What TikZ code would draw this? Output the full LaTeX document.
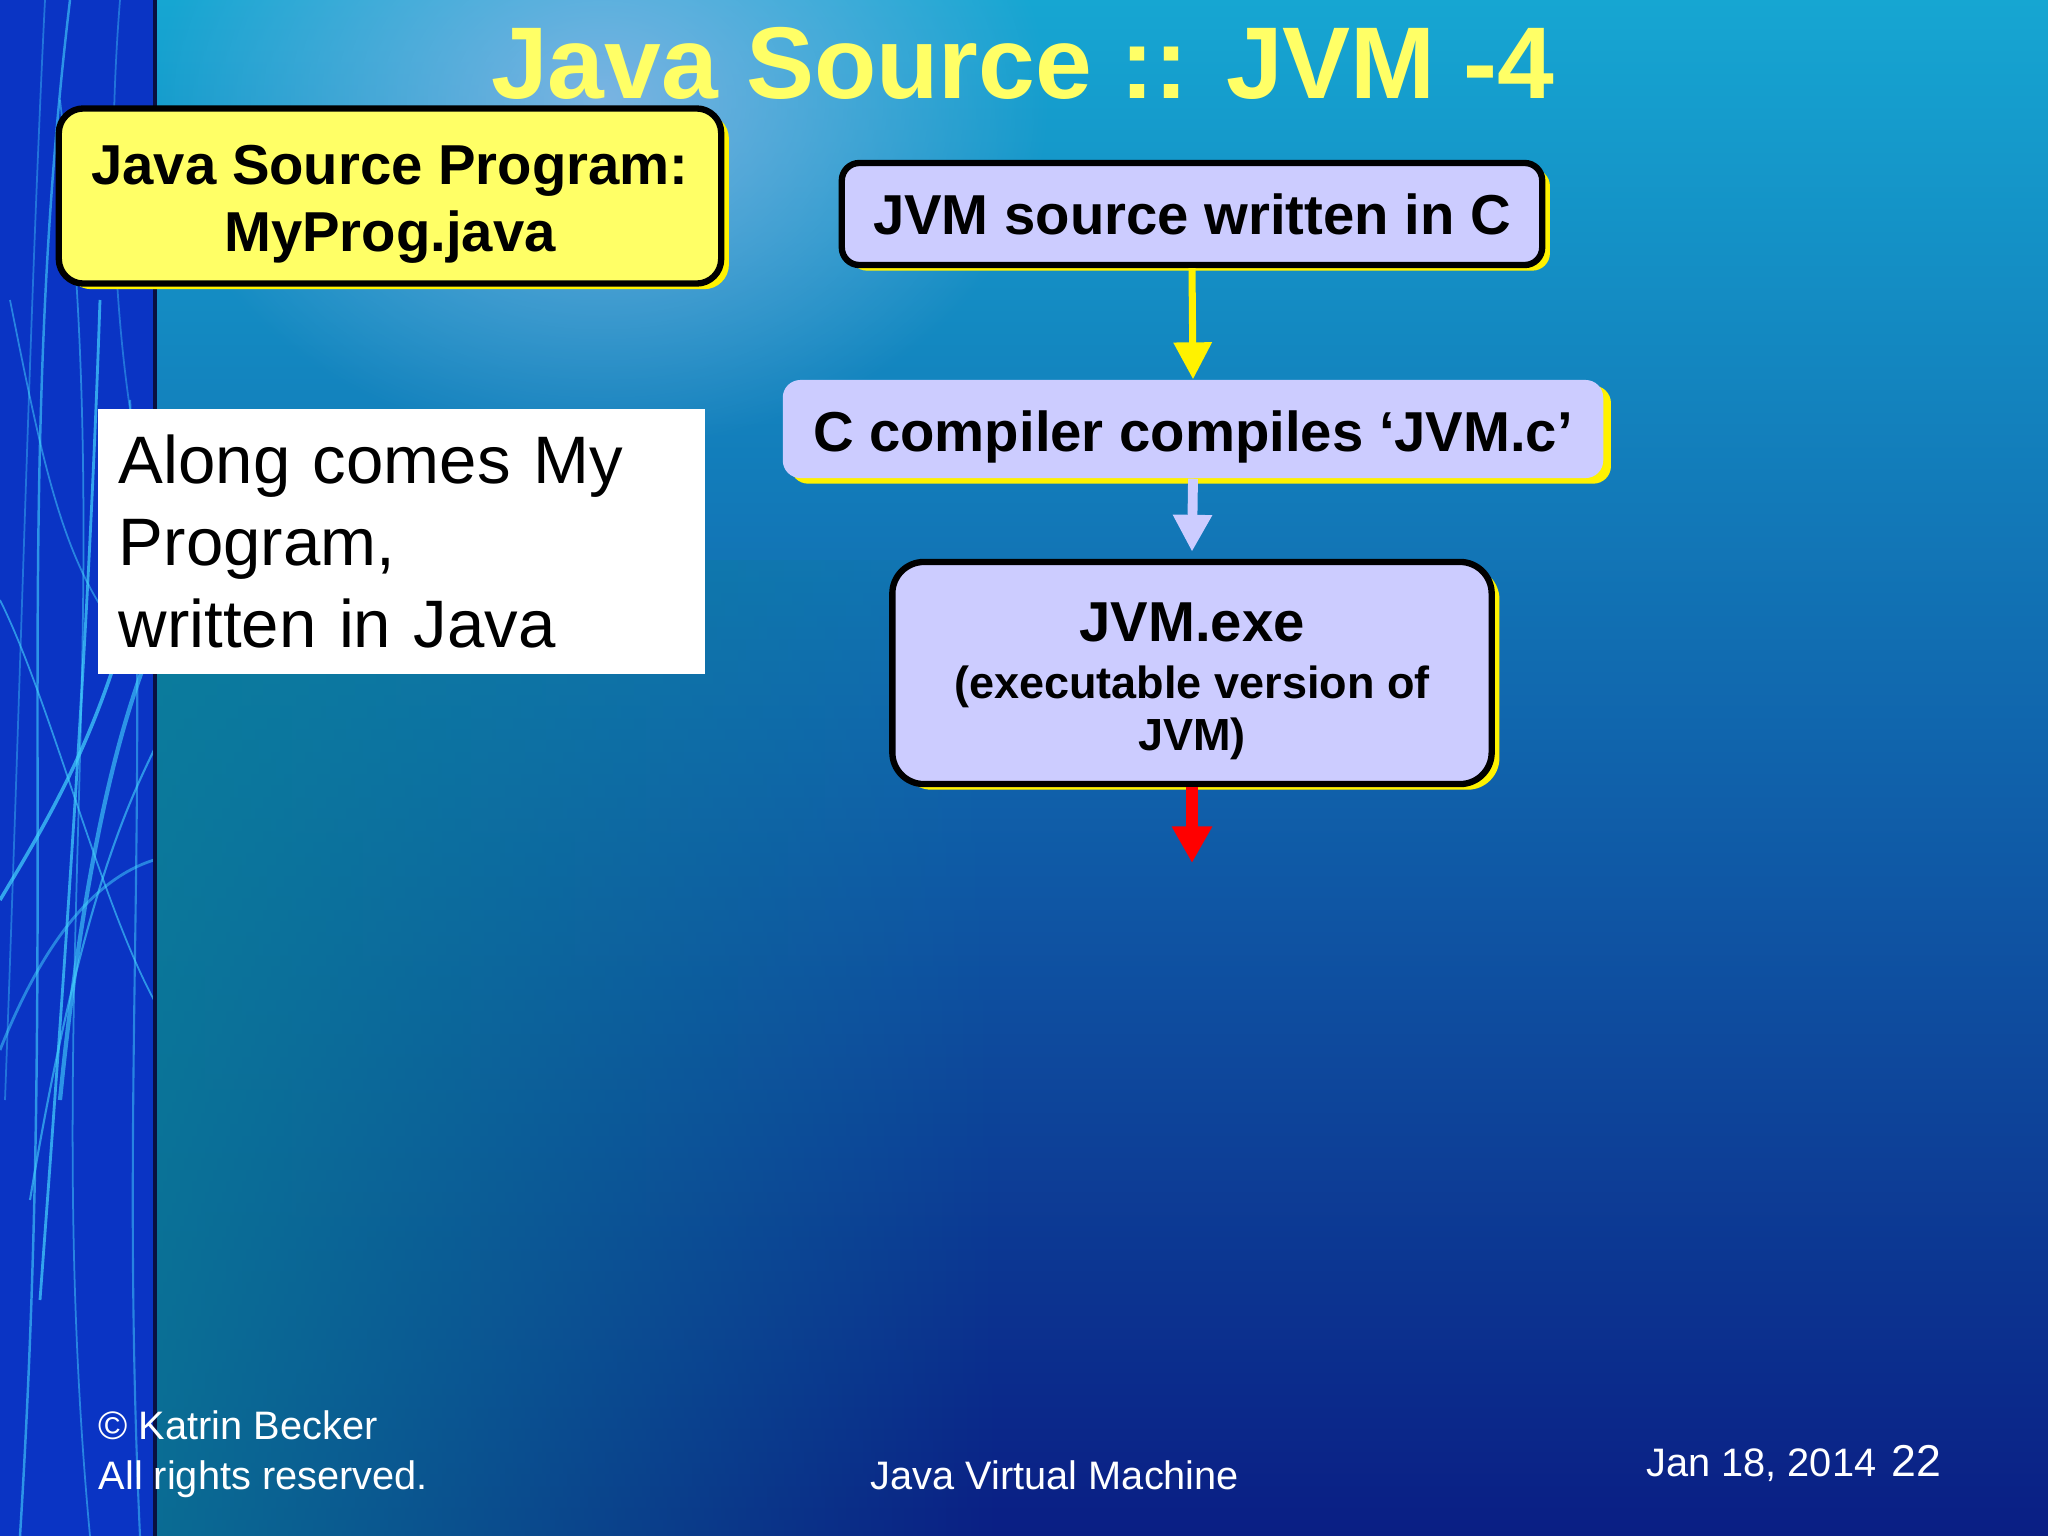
\documentclass[tikz,border=0pt]{standalone}
\usepackage{fontspec}
\setmainfont{Liberation Sans}
\usetikzlibrary{arrows.meta,shadows,fadings}

\definecolor{lavender}{HTML}{CCCCFF}
\definecolor{paleyellow}{HTML}{FFFF66}
\definecolor{bgtop}{HTML}{16A6D2}
\definecolor{bgmid}{HTML}{0A60AE}
\definecolor{bgbot}{HTML}{0A1E84}
\definecolor{glowblue}{HTML}{8CB8E6}
\definecolor{tealside}{HTML}{0A8098}
\definecolor{stripblue}{HTML}{0A34C4}
\definecolor{stripedge}{HTML}{0A1040}
\definecolor{streak}{HTML}{44D4FF}

\tikzfading[name=glowfade, inner color=transparent!15, outer color=transparent!100]
\tikzfading[name=tealfade, left color=transparent!20, right color=transparent!100]

\newcommand{\boxstrut}{\rule{0pt}{16pt}}

\begin{document}
\begin{tikzpicture}[x=0.01cm, y=-0.01cm, join=round,
    flowbox/.style={rounded corners=5pt, fill=lavender, align=center,
      font=\bfseries\fontsize{16}{19.2}\selectfont,
      drop shadow={shadow xshift=2.2pt, shadow yshift=-1.6pt, fill=yellow, opacity=1}},
    edged/.style={draw=black, line width=1.8pt},
    footer/.style={text=white, inner sep=0pt, font=\fontsize{11.3}{13.6}\selectfont},
    flowarrow/.style={line width=#1, -{Triangle[width=10.5pt,length=10.5pt]}}]
  \useasboundingbox (0,0) rectangle (2048,1536);
  % slide background
  \shade[top color=bgtop, middle color=bgmid, bottom color=bgbot] (0,0) rectangle (2048,1536);
  \fill[glowblue, path fading=glowfade] (154,-250) rectangle (1050,450);
  \fill[tealside, path fading=tealfade] (154,560) rectangle (1000,1536);
  % left strip
  \fill[stripblue] (0,0) rectangle (154,1536);
  \draw[streak, opacity=.6, line width=.7pt] (20,1536) .. controls (60,900) and (10,500) .. (70,0);
  \draw[streak, opacity=.5, line width=.5pt] (90,1536) .. controls (40,1000) and (120,600) .. (60,100);
  \draw[streak, opacity=.7, line width=1pt] (0,900) .. controls (60,800) and (120,700) .. (154,500);
  \draw[streak, opacity=.6, line width=.6pt] (30,1200) .. controls (80,900) and (130,800) .. (154,750);
  \draw[streak, opacity=.7, line width=.8pt] (100,300) .. controls (90,600) and (70,900) .. (40,1300);
  \draw[streak, opacity=.5, line width=.6pt] (140,1536) .. controls (120,1100) and (150,800) .. (130,400);
  \draw[streak, opacity=.6, line width=.5pt] (0,600) .. controls (50,700) and (100,900) .. (154,1000);
  \draw[streak, opacity=.5, line width=.5pt] (10,300) .. controls (40,450) and (60,550) .. (110,620);
  \draw[streak, opacity=.6, line width=1.2pt] (60,1100) .. controls (80,900) and (110,750) .. (150,650);
  \draw[streak, opacity=.4, line width=.5pt] (120,0) .. controls (100,250) and (130,450) .. (154,520);
  \draw[streak, opacity=.5, line width=.8pt] (0,1050) .. controls (40,950) and (90,880) .. (154,860);
  \draw[streak, opacity=.4, line width=.5pt] (45,0) .. controls (30,300) and (20,700) .. (5,1100);
  \draw[stripedge, line width=1.2pt] (155,0) -- (155,1536);
  % title
  \node[anchor=base, text=paleyellow, font=\bfseries\fontsize{29}{34}\selectfont] (title) at (1023,98) {Java Source :: JVM -4};
  % boxes
  \node[flowbox, edged, fill=paleyellow, rounded corners=7pt, minimum width=6.62cm, minimum height=1.75cm] (javasrc) at (390,196) {\boxstrut Java Source Program:\\MyProg.java};
  \node[flowbox, edged, minimum width=7cm, minimum height=1.02cm] (jvmsrc) at (1192,214) {JVM source written in C};
  \node[flowbox, minimum width=8.2cm, minimum height=0.98cm] (ccomp) at (1193,429) {\boxstrut C compiler compiles ‘JVM.c’};
  \node[flowbox, edged, rounded corners=9pt, minimum width=5.99cm, minimum height=2.22cm,
        font=\bfseries\fontsize{12.8}{15}\selectfont] (jvmexe) at (1192,673)
        {\boxstrut{\fontsize{16}{19.2}\selectfont JVM.exe}\\[1pt](executable version of\\JVM)};
  \node[fill=white, minimum width=6.07cm, minimum height=2.65cm, text width=5.65cm, inner xsep=0.21cm,
        align=left, font=\fontsize{19.1}{23.2}\selectfont] (note) at (401.5,541.5)
        {Along comes My\\Program,\\written in Java};
  % arrows
  \coordinate (exeout) at (1192,863);
  \draw[flowarrow=2pt, draw=yellow] (jvmsrc.south) -- (ccomp.north);
  \draw[flowarrow=2.8pt, draw=lavender] (ccomp.south) -- ([yshift=2pt]jvmexe.north);
  \draw[flowarrow=3.4pt, draw=red, -{Triangle[width=10.8pt,length=10.4pt]}] (jvmexe.south) -- (exeout);
  % footer
  \node[footer, anchor=base west] (copyr) at (98,1439) {© Katrin Becker};
  \node[footer, anchor=base west] (rights) at (98,1489) {All rights reserved.};
  \node[footer, anchor=base] (course) at (1055,1489) {Java Virtual Machine};
  \node[footer, anchor=base east] (date) at (1877,1476) {Jan 18, 2014};
  \node[footer, anchor=base west, font=\fontsize{12.7}{15}\selectfont] (slideno) at (1891,1476) {22};
\end{tikzpicture}
\end{document}
